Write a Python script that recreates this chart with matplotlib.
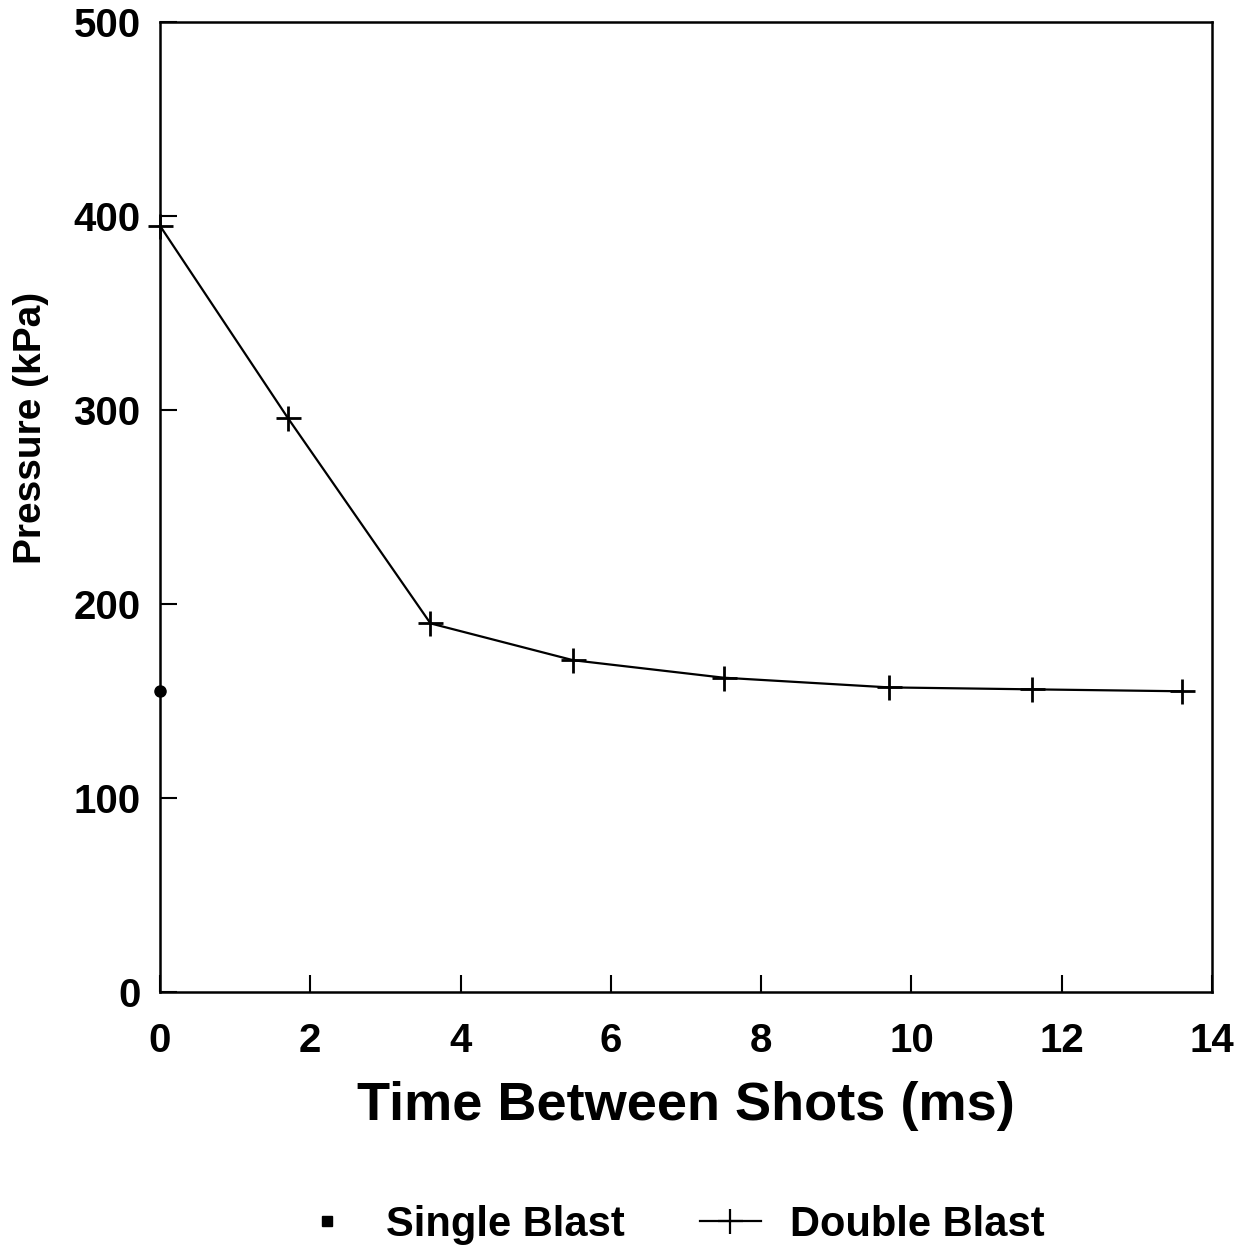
import matplotlib
matplotlib.use("Agg")
import matplotlib.pyplot as plt
from matplotlib.lines import Line2D

plt.rcParams['font.family'] = ['Liberation Sans', 'DejaVu Sans']
plt.rcParams['font.weight'] = 'bold'

# Data
double_time = [0.0, 1.7, 3.6, 5.5, 7.5, 9.7, 11.6, 13.6]
double_pressure = [395, 296, 190, 171, 162, 157, 156, 155]
single_time = [0.0]
single_pressure = [155]
x_ticks = [0, 2, 4, 6, 8, 10, 12, 14]
y_ticks = [0, 100, 200, 300, 400, 500]

fig = plt.figure(figsize=(12.42, 12.46), dpi=100)
ax = fig.add_axes([0.1288, 0.2039, 0.8470, 0.7784])

ax.plot(double_time, double_pressure, color='black', lw=1.6, marker='+',
        markersize=18, markeredgewidth=2.0, clip_on=False, zorder=3)
ax.plot(single_time, single_pressure, linestyle='none', marker='o', color='black',
        markersize=8, clip_on=False, zorder=4)

ax.set_xlim(0, 14)
ax.set_ylim(0, 500)
ax.set_xticks(x_ticks)
ax.set_yticks(y_ticks)
ax.tick_params(direction='in', length=12, width=1.5, labelsize=29,
               top=False, right=False)
ax.tick_params(axis='x', pad=22)
ax.tick_params(axis='y', pad=14)
for lab in ax.get_xticklabels() + ax.get_yticklabels():
    lab.set_fontweight('bold')
for s in ax.spines.values():
    s.set_linewidth(1.8)

ax.set_xlabel('Time Between Shots (ms)', fontsize=39, fontweight='bold', labelpad=15)
fig.text(0.025, 0.6565, 'Pressure (kPa)', rotation=90, ha='center', va='center',
         fontsize=28, fontweight='bold')

handles = [
    Line2D([], [], linestyle='none', marker='s', color='black', markersize=7),
    Line2D([], [], color='black', lw=1.6, marker='+', markersize=18, markeredgewidth=1.6),
]
fig.legend(handles, ['Single Blast', 'Double Blast'], loc='center',
           bbox_to_anchor=(0.54, 0.017), ncol=2, frameon=False,
           prop={'size': 30, 'weight': 'bold'}, handlelength=1.45,
           columnspacing=1.8, handletextpad=0.7)

fig.savefig('out.png', dpi=100)
